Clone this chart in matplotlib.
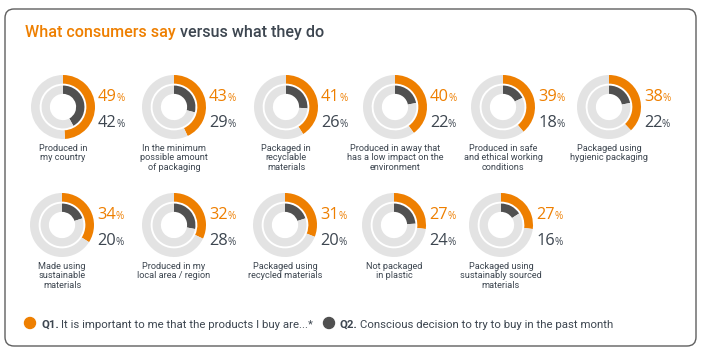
import matplotlib
matplotlib.use('Agg')
import matplotlib.pyplot as plt
from matplotlib.patches import FancyBboxPatch, Circle
from matplotlib import font_manager as fm

# ---------------- data ----------------
categories = [
    "Produced in\nmy country",
    "In the minimum\npossible amount\nof packaging",
    "Packaged in\nrecyclable\nmaterials",
    "Produced in away that\nhas a low impact on the\nenvironment",
    "Produced in safe\nand ethical working\nconditions",
    "Packaged using\nhygienic packaging",
    "Made using\nsustainable\nmaterials",
    "Produced in my\nlocal area / region",
    "Packaged using\nrecycled materials",
    "Not packaged\nin plastic",
    "Packaged using\nsustainably sourced\nmaterials",
]
q1_values = [49, 43, 41, 40, 39, 38, 34, 32, 31, 27, 27]
q2_values = [42, 29, 26, 22, 18, 22, 20, 28, 20, 24, 16]
title_say = "What consumers say"
title_do = "versus what they do"
legend_q1 = ("Q1.", "It is important to me that the products I buy are...*")
legend_q2 = ("Q2.", "Conscious decision to try to buy in the past month")

# ---------------- style ----------------
ORANGE = "#EE7F00"
LGRAY = "#E3E3E3"
DARK = "#505050"
TXT = "#3D4650"

names = {f.name for f in fm.fontManager.ttflist}
def pick(*cands):
    for c in cands:
        if c in names:
            return c
    return "DejaVu Sans"
F_MAIN = pick("Roboto", "Open Sans", "Lato")
F_NARROW = pick("Liberation Sans Narrow", "Roboto", "Open Sans")
F_NUM = pick("Open Sans", "Roboto", "Lato")

W, H = 705, 350
fig = plt.figure(figsize=(W / 100, H / 100), dpi=100)
bg = fig.add_axes([0, 0, 1, 1])
bg.set_xlim(0, W)
bg.set_ylim(H, 0)
bg.axis('off')
renderer = fig.canvas.get_renderer()

frame = FancyBboxPatch((5, 9), 691, 337, boxstyle='round,pad=0,rounding_size=9',
                       fc='white', ec='#5f5f5f', lw=1.0)
bg.add_patch(frame)

def runs(x, y, parts, gap=0.0):
    for s, kw in parts:
        t = bg.text(x, y, s, va='baseline', ha='left', **kw)
        x += t.get_window_extent(renderer).width + gap
    return x

# title
x = runs(25, 37, [(title_say, dict(color=ORANGE, fontsize=11.6, family=F_MAIN, weight='medium'))])
runs(x + 4, 37, [(title_do, dict(color=TXT, fontsize=11.6, family=F_MAIN, weight='medium'))])

# layout of donuts (pixel centres)
centers_x = [63, 174, 286, 395, 503, 609, 62, 174, 285, 394, 501]
rows_y = [107] * 6 + [225] * 5
R = 32

for i, (cat, v1, v2) in enumerate(zip(categories, q1_values, q2_values)):
    cx, cy = centers_x[i], rows_y[i]
    ax = fig.add_axes([(cx - R) / W, 1 - (cy + R) / H, 2 * R / W, 2 * R / H])
    ax.pie([v1, 100 - v1], radius=1.0, startangle=90, counterclock=False,
           colors=[ORANGE, LGRAY], wedgeprops=dict(width=0.27, edgecolor='none', linewidth=0))
    ax.pie([v2, 100 - v2], radius=0.67, startangle=90, counterclock=False,
           colors=[DARK, LGRAY], wedgeprops=dict(width=0.26, edgecolor='none', linewidth=0))
    ax.set_xlim(-1, 1)
    ax.set_ylim(-1, 1)
    ax.set_aspect('equal')
    ax.axis('off')

    runs(cx + 35, cy - 6, [(f"{v1}", dict(color=ORANGE, fontsize=11.8, family=F_NUM)),
                           ("%", dict(color=ORANGE, fontsize=7.2, family=F_NUM))], gap=-0.5)
    runs(cx + 35, cy + 20, [(f"{v2}", dict(color=TXT, fontsize=11.8, family=F_NUM)),
                            ("%", dict(color=TXT, fontsize=7.2, family=F_NUM))], gap=-0.5)
    bg.text(cx, cy + 37, cat, ha='center', va='top', fontsize=6.6, family=F_NARROW,
            color=TXT, linespacing=1.05)

# legend
bg.add_patch(Circle((30, 323), 5.5, color=ORANGE))
x = runs(41, 328, [(legend_q1[0], dict(color=TXT, fontsize=8.2, family=F_MAIN, weight='bold'))])
runs(x + 2, 328, [(legend_q1[1], dict(color=TXT, fontsize=8.2, family=F_MAIN))])
bg.add_patch(Circle((329, 323), 5.5, color=DARK))
x = runs(340, 328, [(legend_q2[0], dict(color=TXT, fontsize=8.2, family=F_MAIN, weight='bold'))])
runs(x + 2, 328, [(legend_q2[1], dict(color=TXT, fontsize=8.2, family=F_MAIN))])

fig.savefig("out.png", dpi=100)
